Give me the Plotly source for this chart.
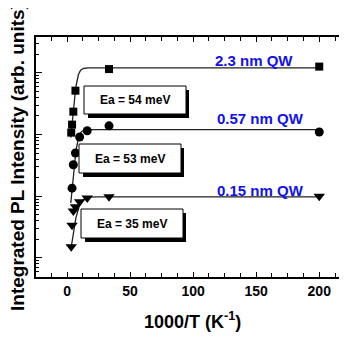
import numpy as np
import plotly.graph_objects as go

# ---- data ----
x_sq = [3.33, 4.0, 5.0, 6.67, 33.3, 200]
y_sq = [10**2.03, 10**2.16, 10**2.37, 10**2.71, 10**3.06, 10**3.10]

x_ci = [4.0, 5.0, 6.67, 10.0, 16.0, 33.3, 200]
y_ci = [10**1.13, 10**1.51, 10**1.70, 10**1.96, 10**2.06, 10**2.14, 10**2.04]

x_tr = [3.33, 4.0, 5.0, 6.67, 10.0, 16.0, 33.3, 200]
y_tr = [10**0.18, 10**0.53, 10**0.76, 10**0.83, 10**0.91, 10**0.97, 10**0.99, 10**1.00]

# Arrhenius fit parameters (I0, C, Ea in meV)
fit_sq = (10**3.08, 82.0, 54.0)
fit_ci = (10**2.08, 92.0, 53.0)
fit_tr = (10**0.99, 21.0, 35.0)

labels_qw = ["2.3 nm QW", "0.57 nm QW", "0.15 nm QW"]
labels_ea = ["Ea = 54 meV", "Ea = 53 meV", "Ea = 35 meV"]

kB = 8.617e-2  # meV/K
xfit = np.concatenate([np.linspace(3.0, 20, 200), np.linspace(20, 200, 50)])


def arr(p, x):
    I0, C, Ea = p
    return I0 / (1 + C * np.exp(-Ea / kB * x / 1000.0))


OFF = 8  # page body margin
W, H = 347 - OFF, 337 - OFF
L, R, T, B = 36 - OFF, 0, 37 - OFF, 60
pw, ph = W - L - R, H - T - B


def px(x):
    return (x - OFF - L) / pw


def py(y):
    return (OFF + T + ph - y) / ph


fig = go.Figure()
for p in (fit_sq, fit_ci, fit_tr):
    fig.add_trace(go.Scatter(x=xfit, y=arr(p, xfit), mode="lines",
                             line=dict(color="#222", width=1.3), hoverinfo="skip"))
fig.add_trace(go.Scatter(x=x_sq, y=y_sq, mode="markers",
                         marker=dict(symbol="square", size=8, color="black")))
fig.add_trace(go.Scatter(x=x_ci, y=y_ci, mode="markers",
                         marker=dict(symbol="circle", size=9, color="black")))
fig.add_trace(go.Scatter(x=x_tr, y=y_tr, mode="markers",
                         marker=dict(symbol="triangle-down", size=10, color="black")))

boxes = [(84, 86, 186, 114), (79, 144, 181, 173), (81, 209, 183, 238)]
shapes = []
annotations = []


def ann(x, y, text, size, color="black", angle=0):
    annotations.append(dict(xref="paper", yref="paper", x=px(x), y=py(y), text=text,
                            showarrow=False, xanchor="center", yanchor="middle",
                            textangle=angle,
                            font=dict(family="Liberation Sans", size=size, color=color,
                                      weight="bold")))


for (x0, y0, x1, y1), lab in zip(boxes, labels_ea):
    shapes.append(dict(type="rect", xref="paper", yref="paper",
                       x0=px(x0 + 4), x1=px(x1 + 3), y0=py(y1 + 4), y1=py(y0 + 4),
                       fillcolor="black", line=dict(width=0)))
    shapes.append(dict(type="rect", xref="paper", yref="paper",
                       x0=px(x0), x1=px(x1), y0=py(y1), y1=py(y0),
                       fillcolor="white", line=dict(color="black", width=1)))
    ann((x0 + x1) / 2, (y0 + y1) / 2, lab, 12)

qw_pos = [(254, 60), (260, 118), (260, 190)]
for (x, y), lab in zip(qw_pos, labels_qw):
    ann(x, y, lab, 15, color="#1010f0")

ann(17, 157, "Integrated PL Intensity (arb. units)", 19, angle=-90)
ann(193, 320, "1000/T (K<sup>-1</sup>)", 18)

fig.update_layout(
    width=W, height=H, margin=dict(l=L, r=R, t=T, b=B),
    paper_bgcolor="white", plot_bgcolor="white", showlegend=False,
    shapes=shapes, annotations=annotations,
    xaxis=dict(range=[-24.6, 222], dtick=50, tick0=0, ticks="inside", ticklen=5,
               tickcolor="black", showline=True, linecolor="black", linewidth=1.5,
               mirror="ticks", showgrid=False, zeroline=False,
               tickfont=dict(family="Liberation Sans", size=14, color="black", weight="bold"),
               minor=dict(ticks="inside", dtick=12.5, tick0=0, ticklen=4, tickcolor="black")),
    yaxis=dict(type="log", range=[-0.31, 3.58], dtick=1, ticks="inside", ticklen=6,
               tickcolor="black", showline=True, linecolor="black", linewidth=1.5,
               showticklabels=False, showgrid=False, zeroline=False,
               minor=dict(ticks="inside", ticklen=3, tickcolor="black", dtick="D1")),
)

fig.write_html("out.html")
